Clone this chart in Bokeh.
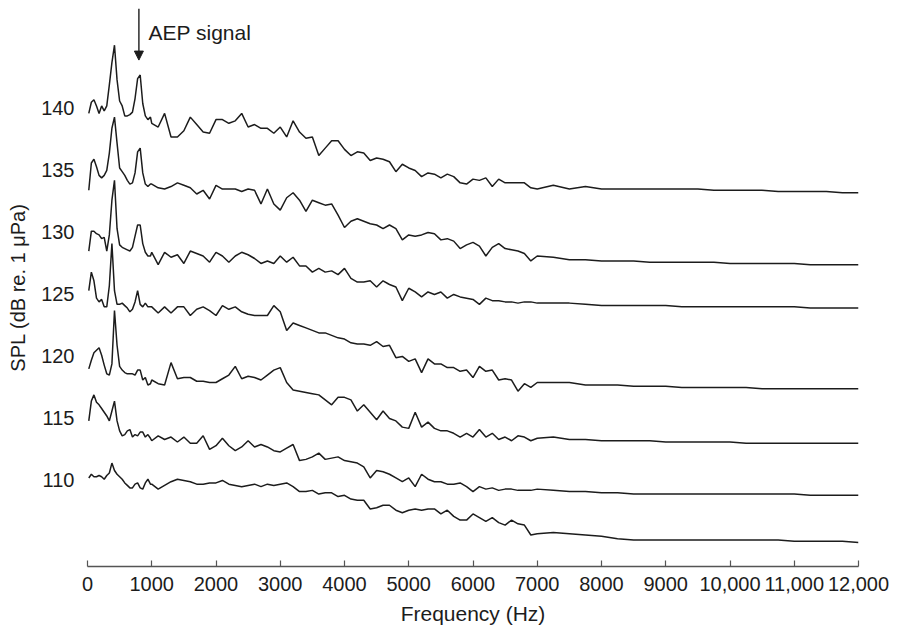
from bokeh.plotting import figure
from bokeh.models import Range1d, FixedTicker, Arrow, NormalHead, Label
from bokeh.embed import file_html
from bokeh.resources import INLINE

# Frequency sampling grid (Hz)
freq_hz = [20, 60, 100, 140, 180, 220, 260, 300, 340, 380, 420, 460, 500,
           540, 580, 620, 660, 700, 740, 780, 820, 860, 900, 940, 980,
           1000, 1100, 1200, 1300, 1400, 1500, 1600, 1700, 1800, 1900,
           2000, 2100, 2200, 2300, 2400, 2500, 2600, 2700, 2800, 2900,
           3000, 3100, 3200, 3300, 3400, 3500, 3600, 3700, 3800, 3900,
           4000, 4100, 4200, 4300, 4400, 4500, 4600, 4700, 4800, 4900,
           5000, 5100, 5200, 5300, 5400, 5500, 5600, 5700, 5800, 5900,
           6000, 6100, 6200, 6300, 6400, 6500, 6600, 6700, 6800, 6900,
           7000, 7250, 7500, 7750, 8000, 8250, 8500, 8750, 9000, 9250,
           9500, 9750, 10000, 10250, 10500, 10750, 11000, 11250, 11500,
           11750, 12000]

spl_140 = [139.6, 140.5, 140.7, 140.2, 139.6, 140.2, 139.8, 140.2, 141.9, 143.7,
           145.1, 142.3, 140.6, 140.2, 139.4, 139.4, 139.5, 139.7, 140.8, 142.4,
           142.7, 140.4, 139.4, 139.1, 139.3,
           138.8, 138.5, 139.6, 137.7, 137.7, 138.2, 139.3, 138.7, 138.1, 138.0,
           139.1, 139.1, 138.8, 139.0, 139.6, 138.5, 138.7, 138.4, 138.4, 138.0,
           138.5, 137.7, 139.0, 138.1, 137.6, 137.7, 136.2, 136.8, 137.4, 137.4,
           136.7, 136.2, 136.5, 136.4, 135.8, 136.0, 135.9, 135.7, 134.9, 135.5,
           135.2, 135.0, 134.5, 134.8, 134.7, 134.4, 134.7, 134.5, 134.0, 133.9,
           134.3, 134.2, 134.4, 133.7, 134.3, 134.0, 134.0, 134.0, 134.0, 133.6,
           133.5,
           133.8, 133.5, 133.7, 133.5, 133.5, 133.5, 133.5, 133.5, 133.5, 133.5,
           133.4, 133.4, 133.4, 133.4, 133.3, 133.3, 133.3, 133.3, 133.2, 133.2]

spl_135 = [133.4, 135.6, 135.9, 135.3, 134.6, 134.4, 134.6, 135.0, 136.4, 138.4,
           139.3, 137.2, 135.2, 134.9, 134.6, 134.2, 133.9, 134.0, 134.8, 136.5,
           136.8, 134.8, 133.9, 133.7, 133.9,
           133.9, 133.6, 133.5, 133.7, 134.0, 133.8, 133.6, 133.1, 133.4, 132.7,
           133.8, 133.5, 133.5, 133.5, 133.3, 133.5, 133.4, 132.3, 133.5, 132.3,
           131.8, 132.8, 133.2, 132.6, 131.7, 132.6, 132.4, 132.2, 132.3, 131.4,
           130.4, 130.9, 131.1, 130.9, 130.7, 130.6, 130.3, 130.6, 130.3, 129.4,
           129.8, 129.7, 129.8, 130.0, 129.9, 129.4, 129.5, 129.3, 128.7, 129.0,
           129.2, 128.9, 128.1, 128.8, 129.1, 128.7, 128.6, 128.5, 128.3, 127.7,
           128.1,
           128.0, 127.8, 127.8, 127.7, 127.7, 127.7, 127.6, 127.6, 127.6, 127.6,
           127.6, 127.5, 127.5, 127.5, 127.5, 127.5, 127.4, 127.4, 127.4, 127.4]

spl_130 = [128.5, 130.1, 130.1, 129.9, 129.8, 129.5, 129.6, 128.5, 129.8, 132.6,
           134.2, 130.3, 129.0, 128.8, 128.7, 128.6, 128.5, 128.8, 129.7, 130.6,
           130.6, 129.1, 128.4, 128.1, 128.1,
           128.4, 127.4, 128.4, 128.0, 128.2, 127.5, 128.5, 128.3, 128.1, 127.6,
           128.4, 128.1, 127.6, 128.1, 128.4, 128.2, 127.9, 127.5, 127.7, 127.5,
           128.1, 127.6, 128.0, 127.3, 127.3, 126.8, 127.1, 126.8, 126.9, 126.6,
           127.1, 126.3, 126.0, 126.0, 126.1, 125.6, 126.1, 125.8, 125.6, 124.5,
           125.5, 125.2, 124.8, 125.2, 125.0, 125.2, 124.7, 125.0, 124.8, 124.7,
           124.6, 124.2, 124.7, 124.5, 124.5, 124.4, 124.4, 124.3, 124.4, 124.4,
           124.3,
           124.3, 124.3, 124.2, 124.1, 124.1, 124.1, 124.1, 124.1, 124.0, 124.0,
           124.0, 124.0, 124.0, 124.0, 124.0, 124.0, 123.9, 123.9, 123.9, 123.9]

spl_125 = [125.3, 126.8, 126.1, 124.7, 124.4, 124.6, 124.0, 124.0, 125.7, 129.1,
           125.3, 124.2, 124.2, 124.3, 124.1, 123.9, 123.6, 123.8, 124.4, 125.3,
           124.2, 124.0, 124.3, 124.0, 124.0,
           124.0, 123.5, 124.0, 123.5, 124.0, 124.0, 123.3, 123.8, 124.0, 123.7,
           123.3, 124.1, 123.8, 124.0, 123.6, 123.4, 123.3, 123.3, 123.3, 124.1,
           123.6, 122.1, 122.7, 122.5, 122.3, 122.1, 121.9, 121.9, 121.7, 121.5,
           121.4, 121.1, 121.0, 121.0, 120.9, 121.2, 120.8, 120.9, 119.9, 120.0,
           119.6, 119.8, 118.7, 119.8, 119.4, 119.4, 119.1, 119.1, 118.8, 118.9,
           118.3, 119.2, 118.8, 118.9, 118.1, 118.2, 118.1, 117.2, 117.8, 117.5,
           117.9,
           117.9, 117.9, 117.7, 117.7, 117.7, 117.6, 117.6, 117.6, 117.5, 117.5,
           117.5, 117.5, 117.5, 117.4, 117.4, 117.4, 117.4, 117.4, 117.4, 117.4]

spl_120 = [119.0, 119.7, 120.3, 120.5, 120.7, 120.1, 119.3, 118.6, 118.5, 119.4,
           123.7, 120.9, 119.2, 118.9, 118.7, 118.6, 118.6, 118.6, 118.5, 118.9,
           118.9, 118.1, 118.3, 117.7, 117.8,
           118.1, 117.8, 117.7, 119.5, 118.2, 118.3, 118.3, 118.0, 118.0, 117.9,
           117.9, 118.2, 118.5, 119.2, 118.2, 118.4, 118.3, 118.1, 118.5, 118.9,
           119.1, 117.9, 117.3, 117.2, 117.1, 117.0, 116.9, 116.5, 116.1, 116.7,
           116.7, 116.5, 115.6, 116.1, 115.5, 114.9, 115.6, 115.0, 114.8, 114.3,
           114.2, 115.5, 114.3, 114.7, 114.2, 114.0, 114.0, 113.8, 113.5, 113.8,
           113.5, 114.1, 113.5, 113.8, 113.3, 113.5, 113.2, 113.6, 113.5, 113.2,
           113.4,
           113.5, 113.3, 113.3, 113.2, 113.2, 113.2, 113.2, 113.1, 113.1, 113.1,
           113.1, 113.1, 113.0, 113.0, 113.0, 113.0, 113.0, 113.0, 113.0, 113.0]

spl_115 = [114.8, 116.4, 116.9, 116.3, 116.1, 115.8, 115.5, 115.2, 114.8, 115.6,
           116.4, 114.8, 114.0, 113.6, 113.7, 114.0, 114.1, 113.5, 113.7, 113.6,
           113.9, 113.9, 113.5, 113.7, 113.4,
           113.2, 113.6, 113.3, 113.5, 113.1, 113.5, 113.0, 113.0, 113.6, 112.5,
           112.8, 113.4, 112.8, 112.4, 112.7, 113.2, 112.7, 112.9, 112.7, 112.4,
           112.3, 112.6, 112.9, 111.6, 111.7, 111.9, 112.2, 111.7, 111.8, 111.9,
           111.6, 111.5, 111.4, 111.1, 110.2, 110.8, 110.7, 110.5, 110.2, 109.9,
           110.2, 109.5, 110.5, 110.1, 109.9, 109.9, 109.7, 109.7, 109.8, 109.5,
           109.1, 109.5, 109.3, 109.4, 109.2, 109.3, 109.3, 109.2, 109.2, 109.2,
           109.3,
           109.2, 109.1, 109.1, 109.0, 109.0, 108.9, 108.9, 108.9, 108.9, 108.9,
           108.9, 108.9, 108.9, 108.9, 108.9, 108.9, 108.8, 108.8, 108.8, 108.8]

spl_110 = [110.2, 110.5, 110.3, 110.3, 110.4, 110.3, 110.1, 110.4, 110.6, 111.4,
           110.8, 110.5, 110.3, 110.1, 109.8, 109.6, 109.4, 109.4, 109.7, 109.8,
           109.4, 109.3, 109.8, 110.1, 109.7,
           109.7, 109.3, 109.6, 109.9, 110.1, 110.0, 109.9, 109.7, 109.7, 109.8,
           109.8, 110.0, 109.7, 109.6, 109.5, 109.6, 109.7, 109.5, 109.7, 109.6,
           109.7, 109.8, 109.5, 109.1, 109.1, 109.2, 108.9, 109.0, 109.0, 108.7,
           108.8, 108.5, 108.4, 108.4, 107.7, 107.8, 108.0, 108.0, 107.6, 107.4,
           107.6, 107.7, 107.6, 107.7, 107.7, 107.3, 107.6, 107.1, 106.8, 106.8,
           107.3, 107.0, 106.7, 107.0, 106.6, 106.4, 106.8, 106.5, 106.4, 105.6,
           105.7,
           105.8, 105.7, 105.6, 105.5, 105.3, 105.2, 105.2, 105.2, 105.2, 105.2,
           105.2, 105.2, 105.2, 105.2, 105.2, 105.1, 105.1, 105.1, 105.1, 105.0]

traces = [spl_140, spl_135, spl_130, spl_125, spl_120, spl_115, spl_110]

y_tick_values = [110, 115, 120, 125, 130, 135, 140]
x_tick_values = [0, 1000, 2000, 3000, 4000, 5000, 6000, 7000, 8000, 9000,
                 10000, 11000, 12000]
x_tick_overrides = {10000: "10,000", 11000: "11,000", 12000: "12,000"}

aep_freq = 800
aep_arrow_top = 148.06
aep_arrow_tip = 143.9
aep_text_freq = 950
aep_text_db = 146.1

FONT = "Liberation Sans"
INK = "#1c1c1c"

p = figure(width=897, height=627, output_backend="svg", toolbar_location=None,
           x_range=Range1d(0, 12000), y_range=Range1d(103.06, 148.06),
           min_border_left=87, min_border_right=39, min_border_top=8,
           min_border_bottom=61, background_fill_color="white",
           border_fill_color="white")
p.outline_line_color = None
p.grid.visible = False

for tr in traces:
    p.line(freq_hz, tr, line_color=INK, line_width=1.5)

# x axis
xa = p.xaxis[0]
xa.ticker = FixedTicker(ticks=x_tick_values)
xa.major_label_overrides = x_tick_overrides
xa.axis_line_color = "#555555"
xa.axis_line_width = 1.5
xa.major_tick_line_color = "#555555"
xa.major_tick_line_width = 1.2
xa.major_tick_in = 6
xa.major_tick_out = 0
xa.minor_tick_line_color = None
xa.major_label_standoff = 10
xa.major_label_text_font = FONT
xa.major_label_text_font_size = "20px"
xa.major_label_text_color = INK
xa.axis_label = "Frequency (Hz)"
xa.axis_label_text_font = FONT
xa.axis_label_text_font_size = "21px"
xa.axis_label_text_font_style = "normal"
xa.axis_label_text_color = INK
xa.axis_label_standoff = 8

# y axis
ya = p.yaxis[0]
ya.ticker = FixedTicker(ticks=y_tick_values)
ya.axis_line_color = None
ya.major_tick_line_color = None
ya.minor_tick_line_color = None
ya.major_tick_in = 0
ya.major_tick_out = 0
ya.major_label_standoff = 13
ya.major_label_text_font = FONT
ya.major_label_text_font_size = "20px"
ya.major_label_text_color = INK
ya.axis_label = "SPL (dB re. 1 \u03bcPa)"
ya.axis_label_text_font = FONT
ya.axis_label_text_font_size = "20px"
ya.axis_label_text_font_style = "normal"
ya.axis_label_text_color = INK
ya.axis_label_standoff = 9

# AEP signal annotation
p.add_layout(Arrow(end=NormalHead(size=9, fill_color=INK, line_color=INK, line_width=1),
                   x_start=aep_freq, y_start=aep_arrow_top,
                   x_end=aep_freq, y_end=aep_arrow_tip,
                   line_color=INK, line_width=1.4))
p.add_layout(Label(x=aep_text_freq, y=aep_text_db, text="AEP signal",
                   text_font=FONT, text_font_size="21px", text_color=INK,
                   text_align="left", text_baseline="middle"))

open("out.html", "w").write(file_html(p, INLINE))
